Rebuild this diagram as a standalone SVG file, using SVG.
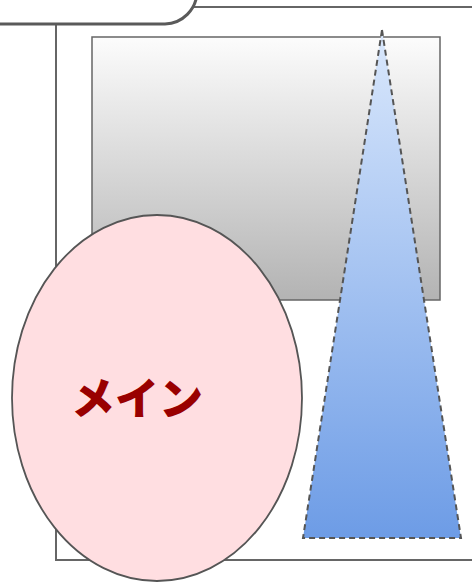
<svg xmlns="http://www.w3.org/2000/svg" width="472" height="582" viewBox="0 0 472 582">
<defs>
<linearGradient id="gGray" x1="0" y1="0" x2="0" y2="1">
<stop offset="0" stop-color="#fcfcfc"/>
<stop offset="1" stop-color="#b3b3b3"/>
</linearGradient>
<linearGradient id="gBlue" x1="0" y1="0" x2="0" y2="1">
<stop offset="0" stop-color="#dae8fc"/>
<stop offset="1" stop-color="#6d9ce6"/>
</linearGradient>
<style>
.frame{fill:none;stroke:#666;stroke-width:2}
.tab{fill:#fff;stroke:#5a5a5a;stroke-width:3}
.box{fill:url(#gGray);stroke:#666;stroke-width:1.5}
.tri{fill:url(#gBlue);stroke:#555;stroke-width:2;stroke-dasharray:6 4}
.ell{fill:#ffdee1;stroke:#555;stroke-width:1.8}
.lbl{font-family:"Noto Sans CJK JP","Noto Sans",sans-serif;font-weight:900;font-size:44px;fill:#990000;text-anchor:middle;dominant-baseline:central}
</style>
</defs>
<g id="frame">
<rect class="frame" x="56" y="7" width="430" height="553"/>
<path class="tab" d="M-10,24 L165,24 A33,33 0 0 0 197,-8 L197,-10 L-10,-10 Z"/>
</g>
<g id="box"><rect class="box" x="92" y="37" width="348" height="263"/></g>
<g id="triangle"><polygon class="tri" points="382,30 461,538 303,538"/></g>
<g id="main">
<ellipse class="ell" cx="157" cy="398" rx="145" ry="183"/>
<text class="lbl" x="137" y="396">メイン</text>
</g>
<g id="connectors"/>
</svg>
